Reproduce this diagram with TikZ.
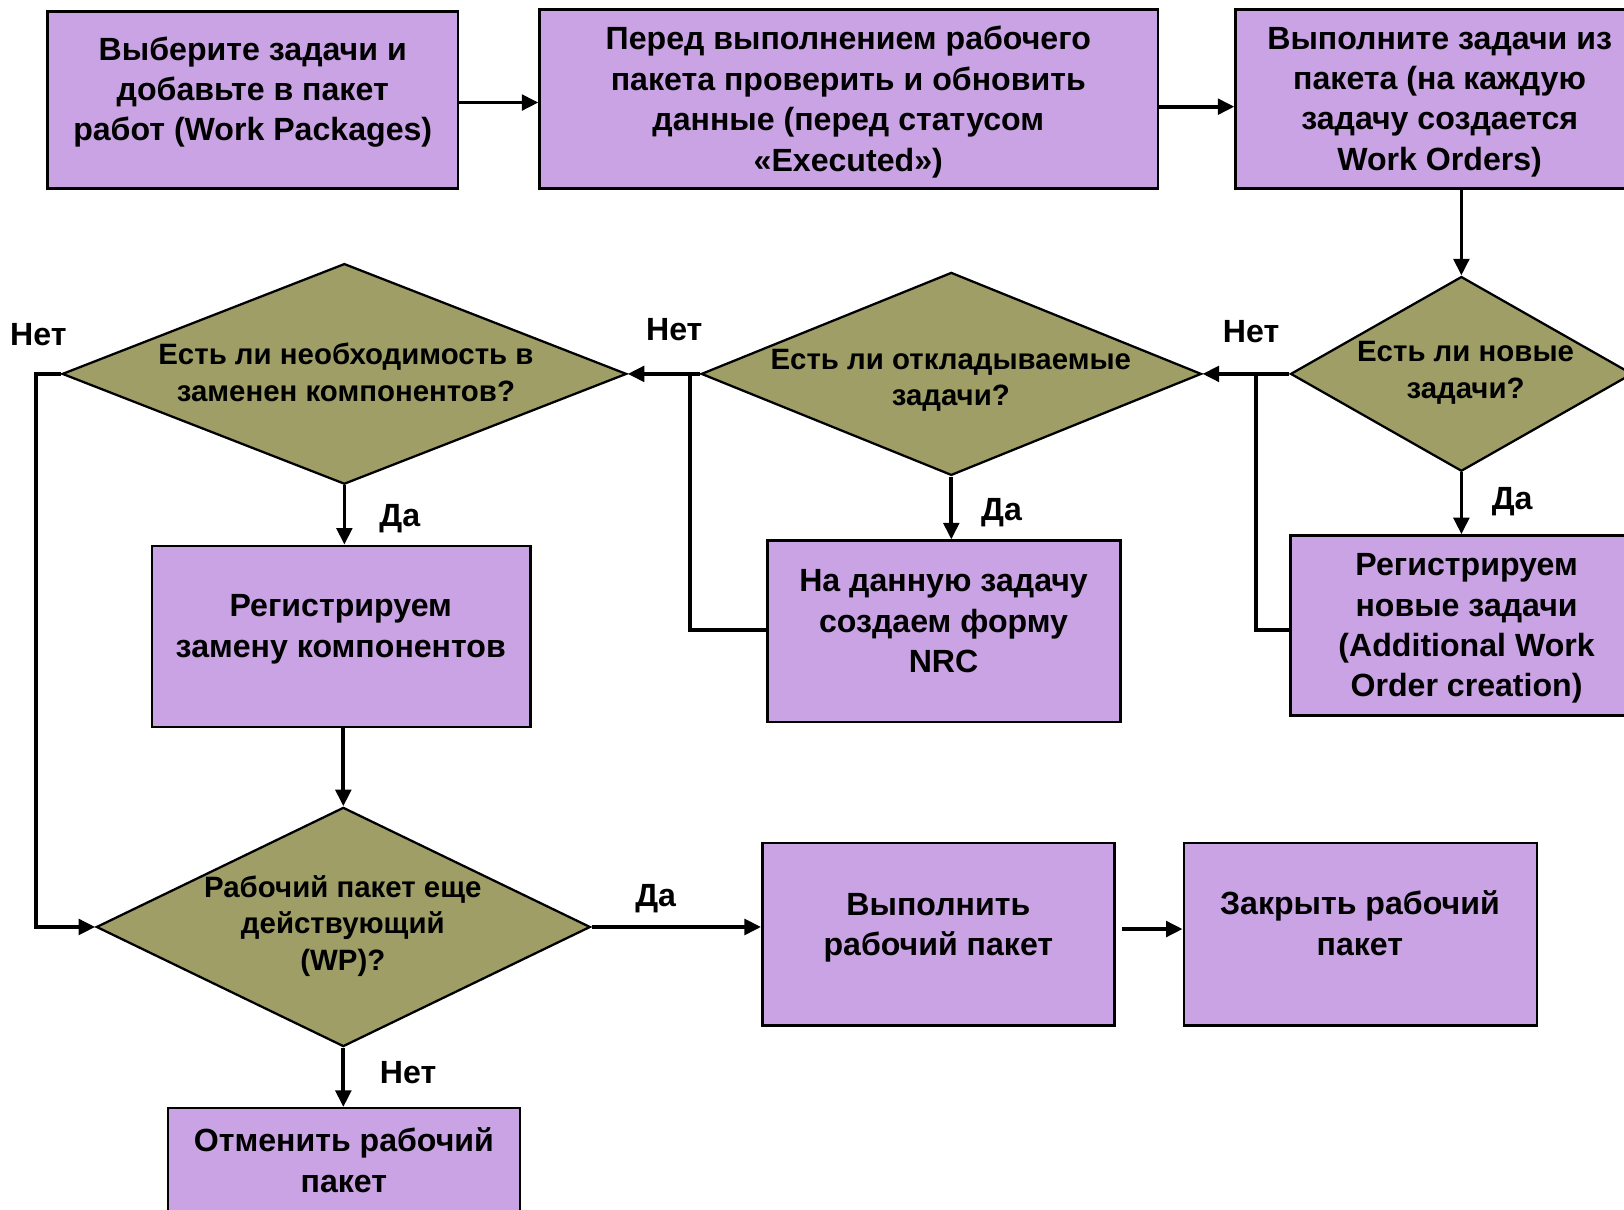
\documentclass[tikz,border=0pt]{standalone}
\usepackage{fontspec}
\setmainfont{Liberation Sans}
\usetikzlibrary{shapes.geometric,arrows.meta}
\definecolor{boxfill}{RGB}{201,163,227}
\definecolor{decfill}{RGB}{158,158,102}
\tikzset{
 box/.style={draw=black, fill=boxfill, line width=2.4pt, inner sep=0pt, rectangle},
 dec/.style={draw=black, fill=decfill, line width=2.2pt, diamond, inner sep=0pt},
 btxt/.style={font=\fontsize{31}{39}\selectfont\bfseries, align=center, inner sep=0pt},
 dtxt/.style={font=\fontsize{28.4}{35}\selectfont\bfseries, align=center, inner sep=0pt},
 lbl/.style={font=\fontsize{31}{36}\selectfont\bfseries, inner sep=0pt},
 arr/.style={line width=3.6pt, -{Triangle[length=16pt,width=15pt]}},
 ln/.style={line width=3.6pt},
}
\begin{document}
\begin{tikzpicture}[x=1pt,y=-1pt]
\useasboundingbox (0,0) rectangle (1568,1168);
\clip (0,0) rectangle (1568,1168);
% boxes
\node[box, minimum width=396pt, minimum height=171pt] (b1) at (244,96.5) {};
\node[box, minimum width=597pt, minimum height=173pt] (b2) at (819.5,95.5) {};
\node[box, minimum width=394pt, minimum height=173pt] (b3) at (1390,95.5) {};
\node[box, minimum width=340pt, minimum height=174pt] (r1) at (1416,604) {};
\node[box, minimum width=341pt, minimum height=175pt] (r2) at (911.5,609.5) {};
\node[box, minimum width=365pt, minimum height=175pt] (r3) at (329.5,614.5) {};
\node[box, minimum width=340pt, minimum height=176pt] (r4) at (906,902) {};
\node[box, minimum width=341pt, minimum height=176pt] (r5) at (1313.5,902) {};
\node[box, minimum width=340pt, minimum height=175pt] (r6) at (332,1157.5) {};
% box texts
\node[btxt] (t1) at (244,89) {Выберите задачи и\\добавьте в пакет\\работ (Work Packages)};
\node[btxt] (t2) at (819,98.5) {Перед выполнением рабочего\\пакета проверить и обновить\\данные (перед статусом\\«Executed»)};
\node[btxt] (t3) at (1390,98.5) {Выполните задачи из\\пакета (на каждую\\задачу создается\\Work Orders)};
\node[btxt] (tr1) at (1416,607) {Регистрируем\\новые задачи\\(Additional Work\\Order creation)};
\node[btxt] (tr2) at (911,600) {На данную задачу\\создаем форму\\NRC};
\node[btxt] (tr3) at (329,607.5) {Регистрируем\\замену компонентов};
\node[btxt] (tr4) at (906,895.5) {Выполнить\\рабочий пакет};
\node[btxt] (tr5) at (1313,891.5) {Закрыть рабочий\\пакет};
\node[btxt] (tr6) at (332,1120) {Отменить рабочий\\пакет};
% decisions
\node[dec, minimum width=330pt, minimum height=188pt] (d1) at (1411,361) {};
\node[dec, minimum width=483pt, minimum height=196pt] (d2) at (918.5,361) {};
\node[dec, minimum width=545pt, minimum height=213pt] (d3) at (332.5,361) {};
\node[dec, minimum width=477pt, minimum height=231pt] (d4) at (331.5,895) {};
\node[dtxt] (td1) at (1415,360) {Есть ли новые\\задачи?};
\node[dtxt] (td2) at (918,367) {Есть ли откладываемые\\задачи?};
\node[dtxt] (td3) at (334,359.5) {Есть ли необходимость в\\заменен компонентов?};
\node[dtxt] (td4) at (331,894) {Рабочий пакет еще\\действующий\\(WP)?};
% junctions
\coordinate (j1) at (1213,361);
\coordinate (j2) at (666,361);
\coordinate (j3) at (35,361);
\coordinate (j4) at (35,895);
% connectors
\draw[arr] (b1.east |- 0,99) -- (b2.west |- 0,99);
\draw[arr] (b2.east |- 0,103) -- (b3.west |- 0,103);
\draw[arr] (b3.south -| d1.north) -- (d1.north);
\draw[arr] (d1.west) -- (d2.east);
\draw[ln] (r1.west |- 0,608) -| (j1);
\draw[arr] (d1.south) -- (d1.south |- r1.north);
\draw[arr] (d2.south) -- (d2.south |- r2.north);
\draw[arr] (d2.west) -- (d3.east);
\draw[ln] (r2.west |- 0,608) -| (j2);
\draw[arr] (d3.south) -- (d3.south |- r3.north);
\draw[arr] (r3.south -| d4.north) -- (d4.north);
\draw[arr] (d3.west) -- (j3) -- (j4) -- (d4.west);
\draw[arr] (d4.east) -- (r4.west |- d4.east);
\draw[arr, shorten <=6pt] (r4.east |- 0,897) -- (r5.west |- 0,897);
\draw[arr] (d4.south) -- (d4.south |- r6.north);
% labels
\node[lbl] (l1) at (37,323) {Нет};
\node[lbl] (l2) at (651,318) {Нет};
\node[lbl] (l3) at (1208,320) {Нет};
\node[lbl] (l4) at (386,501) {Да};
\node[lbl] (l5) at (967,495) {Да};
\node[lbl] (l6) at (1460,484) {Да};
\node[lbl] (l7) at (633,868) {Да};
\node[lbl] (l8) at (394,1036) {Нет};
\end{tikzpicture}
\end{document}
